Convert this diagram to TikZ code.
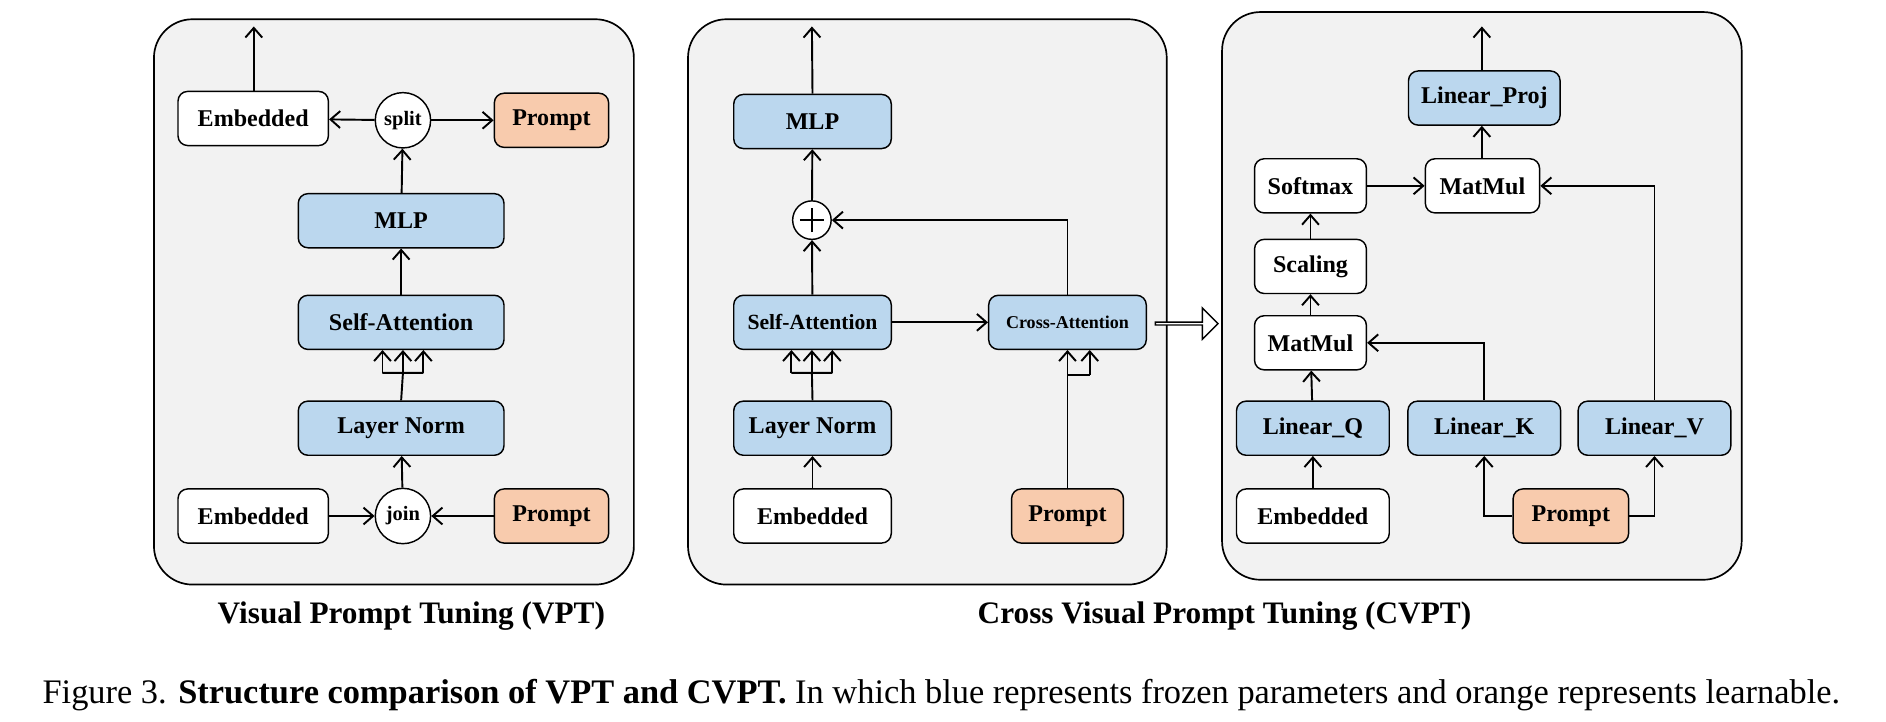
\documentclass[tikz,border=0pt]{standalone}
\usepackage{fontspec}
\setmainfont{Liberation Serif}
\usetikzlibrary{arrows.meta,shapes.arrows}
\definecolor{fblue}{RGB}{187,215,238}
\definecolor{forange}{RGB}{248,203,173}
\definecolor{pgray}{RGB}{242,242,242}
\tikzset{
 box/.style={draw,rounded corners=4pt,line width=0.6pt,minimum height=22.5pt,inner sep=1pt,font=\bfseries\fontsize{10}{11}\selectfont},
 wbox/.style={box,fill=white},
 bbox/.style={box,fill=fblue},
 obox/.style={box,fill=forange},
 circ/.style={draw,circle,fill=white,line width=0.6pt,inner sep=0pt,font=\bfseries\fontsize{8.5}{9}\selectfont},
 panel/.style={draw,fill=pgray,rounded corners=16pt,line width=0.7pt},
 arr/.style={line width=0.8pt,-{Straight Barb[length=4pt,width=7pt]}},
 ln/.style={line width=0.8pt}
}
\begin{document}
\begin{tikzpicture}[x=0.5pt,y=-0.5pt]
\useasboundingbox (0,0) rectangle (1568,600);
\draw[panel] (128,16) rectangle (527,486);
\draw[panel] (572,16) rectangle (970,486);
\draw[panel] (1016,10) rectangle (1448,482);
% Panel 1
\node[wbox,minimum width=62.5pt] (e1) at (210.5,98.5) {Embedded};
\node[circ,minimum size=23pt] (sp) at (335,100) {split};
\node[obox,minimum width=47.5pt] (p1) at (458.5,100) {Prompt};
\node[bbox,minimum width=85.5pt] (mlp1) at (333.5,183.5) {MLP};
\node[bbox,minimum width=85.5pt] (sa1) at (333.5,268) {Self-Attention};
\node[bbox,minimum width=85.5pt] (ln1) at (333.5,356) {Layer Norm};
\node[wbox,minimum width=62.5pt] (e2) at (210.5,429) {Embedded};
\node[circ,minimum size=23pt] (jn) at (335,429) {join};
\node[obox,minimum width=47.5pt] (p2) at (458.5,429) {Prompt};
\coordinate (o1) at (211,22);
\draw[arr] (e1.north -| o1) -- (o1);
\draw[arr] (sp) -- (e1);
\draw[arr] (sp) -- (p1);
\draw[arr] (mlp1) -- (sp);
\draw[arr] (sa1) -- (mlp1);
\coordinate (b1) at (335,310);
\draw[ln] (ln1.north) -- (b1) (318,310) -- (352,310);
\draw[arr] (318,310) -- (318,291);
\draw[arr] (335,310) -- (335,291);
\draw[arr] (352,310) -- (352,291);
\draw[arr] (jn) -- (ln1);
\draw[arr] (e2) -- (jn);
\draw[arr] (p2) -- (jn);
% Panel 2
\node[bbox,minimum width=65.5pt] (mlp2) at (675.5,101) {MLP};
\node[draw,circle,fill=white,line width=0.6pt,minimum size=16pt,inner sep=0pt] (pl) at (675,183) {};
\draw[line width=0.8pt] ([xshift=-5pt]pl.center) -- ([xshift=5pt]pl.center) ([yshift=-5pt]pl.center) -- ([yshift=5pt]pl.center);
\node[bbox,minimum width=65.5pt,font=\bfseries\fontsize{9}{10}\selectfont] (sa2) at (675.5,268) {Self-Attention};
\node[bbox,minimum width=65.5pt] (ln2) at (675.5,356) {Layer Norm};
\node[wbox,minimum width=65.5pt] (e3) at (675.5,429) {Embedded};
\node[bbox,minimum width=65.5pt,font=\bfseries\fontsize{7.5}{8}\selectfont] (ca) at (887.5,268) {Cross-Attention};
\node[obox,minimum width=46.5pt] (p3) at (887.5,429) {Prompt};
\coordinate (o2) at (675,22);
\draw[arr] (mlp2.north) -- (o2);
\draw[arr] (pl) -- (mlp2);
\draw[arr] (sa2) -- (pl);
\draw[arr] (ca.north) |- (pl);
\draw[arr] (sa2) -- (ca);
\draw[ln] (ln2.north) -- (675,310) (658,310) -- (692,310);
\draw[arr] (658,310) -- (658,291);
\draw[arr] (675,310) -- (675,291);
\draw[arr] (692,310) -- (692,291);
\draw[arr] (e3) -- (ln2);
\draw[ln] (p3.north) -- (887.5,312) -- (906,312);
\draw[arr] (887.5,312) -- (887.5,291);
\draw[arr] (906,312) -- (906,291);
\node[draw,single arrow,fill=white,line width=0.6pt,minimum height=26pt,minimum width=13pt,single arrow head extend=3pt,inner sep=0pt] (ha) at (986,269) {};
% Panel 3
\node[bbox,minimum width=63pt] (lp) at (1234,81.5) {Linear\_Proj};
\node[wbox,minimum width=46.5pt] (sm) at (1089.5,154.5) {Softmax};
\node[wbox,minimum width=47.5pt] (mm1) at (1232.5,154.5) {MatMul};
\node[wbox,minimum width=46.5pt] (sc) at (1089.5,221.5) {Scaling};
\node[wbox,minimum width=46.5pt] (mm2) at (1089.5,285) {MatMul};
\node[bbox,minimum width=63.5pt] (lq) at (1091.5,356) {Linear\_Q};
\node[bbox,minimum width=63.5pt] (lk) at (1234,356) {Linear\_K};
\node[bbox,minimum width=63.5pt] (lv) at (1375.5,356) {Linear\_V};
\node[wbox,minimum width=63.5pt] (e4) at (1091.5,429) {Embedded};
\node[obox,minimum width=48pt] (p4) at (1306,429) {Prompt};
\coordinate (o3) at (1232,22);
\draw[arr] (lp.north -| o3) -- (o3);
\draw[arr] (mm1.north -| o3) -- (lp.south -| o3);
\draw[arr] (sm) -- (mm1);
\draw[arr] (sc) -- (sm);
\draw[arr] (mm2) -- (sc);
\draw[arr] (lq) -- (mm2);
\draw[arr] (e4) -- (lq);
\draw[arr] (lk.north) |- (mm2);
\draw[arr] (lv.north) |- (mm1);
\draw[arr] (p4.west) -| (lk.south);
\draw[arr] (p4.east) -| (lv.south);
% captions
\node[font=\bfseries\fontsize{13}{15}\selectfont] (c1) at (342,512) {Visual Prompt Tuning (VPT)};
\node[font=\bfseries\fontsize{13}{15}\selectfont] (c2) at (1018,512) {Cross Visual Prompt Tuning (CVPT)};
\node[anchor=west,inner sep=0pt,font=\fontsize{14.3}{16}\selectfont] (fc) at (35,578) {Figure 3. \textbf{Structure comparison of VPT and CVPT.} In which blue represents frozen parameters and orange represents learnable.};
\end{tikzpicture}
\end{document}
